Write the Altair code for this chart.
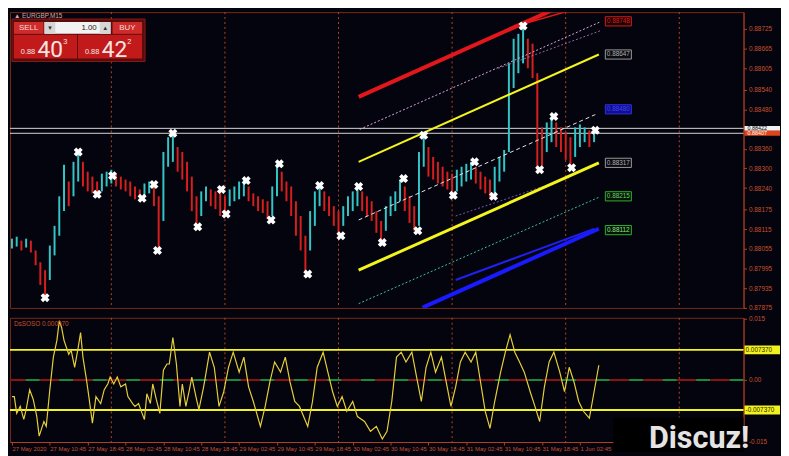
import altair as alt
import pandas as pd

FONT = "DejaVu Sans"
NFONT = "Liberation Sans"
BG = "#04040e"
AXC = "#b3401f"
LBC = "#c8502c"
CYAN = "#34c6c6"
RED = "#d81f1f"
YEL = "#f5f51e"

# ---------------- data ----------------
# price bars (every 4th M15 bar), high / low
bar_hi = [0.88086, 0.88092, 0.88080, 0.88086, 0.88080, 0.88050, 0.88014, 0.87990, 0.88065, 0.88125,
          0.88215, 0.88311, 0.88260, 0.88320, 0.88350, 0.88320, 0.88290, 0.88275, 0.88260, 0.88284,
          0.88290, 0.88296, 0.88284, 0.88275, 0.88266, 0.88260, 0.88245, 0.88236, 0.88254, 0.88260,
          0.88245, 0.88215, 0.88350, 0.88395, 0.88401, 0.88365, 0.88350, 0.88320, 0.88275, 0.88215,
          0.88230, 0.88245, 0.88236, 0.88230, 0.88236, 0.88215, 0.88236, 0.88245, 0.88260, 0.88266,
          0.88245, 0.88224, 0.88215, 0.88206, 0.88200, 0.88245, 0.88314, 0.88290, 0.88260, 0.88245,
          0.88200, 0.88155, 0.88095, 0.88170, 0.88230, 0.88254, 0.88230, 0.88215, 0.88185, 0.88170,
          0.88185, 0.88215, 0.88230, 0.88248, 0.88230, 0.88215, 0.88200, 0.88170, 0.88140, 0.88185,
          0.88215, 0.88230, 0.88266, 0.88245, 0.88215, 0.88185, 0.88350, 0.88401, 0.88365, 0.88335,
          0.88320, 0.88305, 0.88290, 0.88284, 0.88296, 0.88305, 0.88314, 0.88320, 0.88305, 0.88290,
          0.88275, 0.88266, 0.88305, 0.88335, 0.88356, 0.88620, 0.88695, 0.88710, 0.88734, 0.88695,
          0.88680, 0.88590, 0.88425, 0.88440, 0.88458, 0.88440, 0.88425, 0.88410, 0.88395, 0.88425,
          0.88434, 0.88425, 0.88416, 0.88425]
bar_lo = [0.88056, 0.88062, 0.88050, 0.88059, 0.88044, 0.88005, 0.87945, 0.87900, 0.87960, 0.88035,
          0.88095, 0.88170, 0.88185, 0.88215, 0.88260, 0.88245, 0.88230, 0.88224, 0.88215, 0.88230,
          0.88245, 0.88254, 0.88245, 0.88236, 0.88230, 0.88215, 0.88206, 0.88200, 0.88215, 0.88224,
          0.88185, 0.88056, 0.88140, 0.88305, 0.88320, 0.88290, 0.88266, 0.88230, 0.88170, 0.88122,
          0.88155, 0.88200, 0.88185, 0.88176, 0.88155, 0.88164, 0.88185, 0.88200, 0.88206, 0.88215,
          0.88200, 0.88185, 0.88170, 0.88164, 0.88146, 0.88155, 0.88215, 0.88230, 0.88200, 0.88155,
          0.88095, 0.88050, 0.87984, 0.88050, 0.88125, 0.88185, 0.88170, 0.88155, 0.88125, 0.88095,
          0.88125, 0.88155, 0.88170, 0.88185, 0.88170, 0.88155, 0.88140, 0.88104, 0.88074, 0.88110,
          0.88155, 0.88170, 0.88200, 0.88170, 0.88134, 0.88110, 0.88125, 0.88305, 0.88275, 0.88266,
          0.88254, 0.88245, 0.88236, 0.88215, 0.88230, 0.88245, 0.88260, 0.88266, 0.88254, 0.88236,
          0.88224, 0.88212, 0.88224, 0.88260, 0.88290, 0.88350, 0.88545, 0.88590, 0.88620, 0.88605,
          0.88575, 0.88296, 0.88305, 0.88350, 0.88380, 0.88365, 0.88350, 0.88326, 0.88302, 0.88335,
          0.88365, 0.88380, 0.88365, 0.88380]
BAR_STEP = 4

# zigzag / fractal crosses
frac_i = [28, 56, 72, 85, 110, 120, 123, 136, 157, 177, 181, 198, 219, 226, 250,
          260, 278, 293, 313, 331, 343, 348, 373, 391, 407, 432, 446, 458, 473, 493]
frac_p = [0.87906, 0.88350, 0.88221, 0.88278, 0.88209, 0.88251, 0.88050, 0.88407, 0.88122, 0.88236,
          0.88161, 0.88263, 0.88143, 0.88314, 0.87978, 0.88248, 0.88095, 0.88245, 0.88074, 0.88269,
          0.88110, 0.88401, 0.88218, 0.88320, 0.88215, 0.88734, 0.88296, 0.88458, 0.88302, 0.88416]

# oscillator
osc_i = [0, 2, 4, 7, 10, 12, 15, 18, 21, 23, 27, 29, 32, 35, 38, 40, 42, 44, 48, 50,
         53, 56, 58, 60, 63, 65, 68, 71, 75, 78, 81, 83, 86, 89, 92, 96, 98, 102, 104, 107,
         110, 112, 114, 117, 119, 122, 125, 128, 131, 133, 136, 139, 142, 144, 147, 150, 152, 156, 158, 162,
         167, 171, 175, 179, 183, 187, 192, 196, 200, 204, 210, 214, 218, 222, 227, 231, 235, 239, 243, 250,
         254, 258, 263, 267, 271, 275, 279, 283, 288, 292, 298, 303, 308, 313, 317, 321, 325, 329, 333, 338,
         342, 346, 350, 354, 358, 363, 367, 371, 375, 379, 383, 388, 392, 396, 400, 404, 408, 413, 417, 421,
         425, 429, 433, 438, 442, 446, 450, 454, 458, 463, 467, 471, 475, 479, 483, 488, 492, 496]
osc_v = [-0.0041, -0.0041, -0.0082, -0.0065, -0.0097, -0.0073, -0.0024, -0.0048, -0.0090, -0.0138,
         -0.0102, -0.0114, -0.0024, 0.0056, 0.0097, 0.0145, 0.0128, 0.0097, 0.0063, 0.0073,
         0.0031, 0.0080, 0.0116, 0.0056, 0.0000, -0.0041, -0.0106, -0.0041, -0.0058, -0.0024,
         -0.0010, 0.0007, -0.0010, 0.0007, -0.0017, -0.0010, -0.0041, -0.0058, -0.0065, -0.0058,
         -0.0082, -0.0097, -0.0034, -0.0058, -0.0010, -0.0048, -0.0082, 0.0024, 0.0039, 0.0039,
         0.0104, 0.0039, -0.0065, -0.0010, -0.0065, -0.0024, 0.0007, -0.0048, -0.0073, -0.0017,
         0.0068, 0.0031, -0.0065, -0.0029, 0.0031, 0.0068, 0.0019, 0.0056, -0.0017, -0.0053,
         -0.0114, -0.0065, -0.0005, 0.0044, 0.0019, 0.0056, -0.0005, -0.0053, -0.0065, -0.0114,
         -0.0053, 0.0031, 0.0068, 0.0019, -0.0029, -0.0065, -0.0041, -0.0077, -0.0053, -0.0090,
         -0.0102, -0.0126, -0.0114, -0.0145, -0.0126, -0.0053, 0.0056, 0.0068, 0.0044, 0.0068,
         0.0007, -0.0053, 0.0031, 0.0068, 0.0019, 0.0056, -0.0005, -0.0065, -0.0017, 0.0044,
         0.0068, 0.0044, 0.0068, -0.0005, -0.0077, -0.0119, -0.0053, 0.0019, 0.0068, 0.0111,
         0.0068, 0.0044, 0.0019, -0.0029, -0.0065, -0.0102, -0.0017, 0.0044, 0.0068, 0.0019,
         -0.0029, 0.0031, -0.0005, -0.0053, -0.0077, -0.0094, -0.0029, 0.0036]
osc_level = 0.00737

day_sep_i = [84, 180, 276, 372, 468, 564]
tick_i = [0, 32, 64, 96, 128, 160, 192, 224, 256, 288, 320, 352, 384, 416, 448, 480]
tick_labels = ["27 May 2020", "27 May 10:45", "27 May 18:45", "28 May 02:45", "28 May 10:45",
               "28 May 18:45", "29 May 02:45", "29 May 10:45", "29 May 18:45", "30 May 02:45",
               "30 May 10:45", "30 May 18:45", "31 May 02:45", "31 May 10:45", "31 May 18:45",
               "1 Jun 02:45"]
price_ticks = [0.88725, 0.88665, 0.88605, 0.88540, 0.88480, 0.88360, 0.88300, 0.88240,
               0.88175, 0.88115, 0.88055, 0.87995, 0.87935, 0.87875]
hline_p = [0.88422, 0.88407]

# channel / trend lines (bar index, price)
red_thick_i, red_thick_p = [293, 492], [0.88518, 0.88839]
red_thin_i, red_thin_p = [432, 500], [0.88740, 0.88810]
pink1_i, pink1_p = [294, 497], [0.88419, 0.88746]
pink2_i, pink2_p = [411, 497], [0.88605, 0.88719]
yel_up_i, yel_up_p = [293, 496], [0.88320, 0.88647]
yel_lo_i, yel_lo_p = [293, 496], [0.87990, 0.88317]
white_i, white_p = [293, 493], [0.88143, 0.88464]
cyan_i, cyan_p = [293, 496], [0.87888, 0.88212]
purple_i, purple_p = [375, 471], [0.88155, 0.88272]
blue_thick_i, blue_thick_p = [347, 496], [0.87876, 0.88116]
blue_thin_i, blue_thin_p = [375, 492], [0.87960, 0.88116]
end_label_p = [0.88748, 0.88647, 0.88480, 0.88317, 0.88215, 0.88112]

# ---------------- scales / axes ----------------
xs = alt.Scale(domain=[-1.67, 618.3], nice=False, zero=False)
ys = alt.Scale(domain=[0.87875, 0.88776], nice=False, zero=False)
osc_s = alt.Scale(domain=[-0.01524, 0.01524], nice=False, zero=False)

yaxis = alt.Axis(orient="right", values=price_ticks, format=".5f", labelFontSize=6.5, labelFont=NFONT,
                 labelColor=LBC, tickColor=AXC, domainColor=AXC, tickSize=3, labelPadding=2,
                 grid=False, labelFlush=False, labelOverlap=False, title=None)
lab_expr = "[" + ",".join("'%s'" % s for s in tick_labels) + "][round(datum.value / 32)]"
xaxis_b = alt.Axis(orient="bottom", values=tick_i, labelExpr=lab_expr, labelFontSize=6, labelFont=NFONT,
                   labelColor=LBC, tickColor=AXC, domainColor=AXC, tickSize=3, labelPadding=1,
                   labelAlign="left", labelBaseline="top", grid=False, labelFlush=False,
                   labelOverlap=False, title=None)
oaxis = alt.Axis(orient="right", values=[0.015, 0.0, -0.015],
                 labelExpr="datum.value > 0.01 ? '0.015' : (datum.value < -0.01 ? '-0.015' : '0.00')",
                 labelFontSize=6.5, labelFont=NFONT, labelColor=LBC, tickColor=AXC, domainColor=AXC,
                 tickSize=3, labelPadding=2, grid=False, labelFlush=False, labelOverlap=False, title=None)


def XP(f="i"):
    return alt.X(f, type="quantitative", scale=xs, axis=None, title=None)


def YP(f="p"):
    return alt.Y(f, type="quantitative", scale=ys, axis=yaxis, title=None)


def XO(f="i"):
    return alt.X(f, type="quantitative", scale=xs, axis=xaxis_b, title=None)


def YO(f="v"):
    return alt.Y(f, type="quantitative", scale=osc_s, axis=oaxis, title=None)


one = pd.DataFrame({"k": [0]})


def box(x, x2, y, y2, fill, stroke=None, sw=1):
    kw = dict(fill=fill)
    if stroke:
        kw.update(stroke=stroke, strokeWidth=sw)
    else:
        kw.update(strokeWidth=0)
    return alt.Chart(one).mark_rect(**kw).encode(
        x=alt.value(x), x2=alt.value(x2), y=alt.value(y), y2=alt.value(y2))


def txt(s, x, y, size, color, align="left", baseline="middle", weight="normal", font=FONT):
    return alt.Chart(one).mark_text(text=s, align=align, baseline=baseline, fontSize=size,
                                    color=color, fontWeight=weight, font=font).encode(
        x=alt.value(x), y=alt.value(y))


def seg(ii, pp, color, width, dash=None, opacity=1.0):
    kw = dict(color=color, strokeWidth=width, clip=True, opacity=opacity)
    if dash:
        kw["strokeDash"] = dash
    return alt.Chart(pd.DataFrame({"i": ii, "p": pp})).mark_line(**kw).encode(x=XP(), y=YP())


# ---------------- main price panel ----------------
bars = pd.DataFrame({"i": [k * BAR_STEP for k in range(len(bar_hi))], "hi": bar_hi, "lo": bar_lo})
mid = (bars["hi"] + bars["lo"]) / 2
bars["dir"] = ["up" if k == 0 or mid[k] >= mid[k - 1] else "down" for k in range(len(bars))]

top_layers = []
top_layers.append(alt.Chart(pd.DataFrame({"i": day_sep_i})).mark_rule(
    color="#b8461f", strokeDash=[2, 3], strokeWidth=1).encode(x=XP()))
top_layers.append(alt.Chart(pd.DataFrame({"p": hline_p})).mark_rule(
    color="#d8d8d8", strokeWidth=1).encode(y=YP()))
top_layers.append(alt.Chart(bars).mark_rule(strokeWidth=2).encode(
    x=XP(), y=YP("lo"), y2="hi",
    color=alt.Color("dir:N", scale=alt.Scale(domain=["up", "down"], range=[CYAN, RED]), legend=None)))

top_layers += [
    seg(cyan_i, cyan_p, "#3cc0a0", 1, [2, 2]),
    seg(purple_i, purple_p, "#9070d0", 1, [2, 2], 0.8),
    seg(pink2_i, pink2_p, "#c080c0", 1, [2, 2], 0.8),
    seg(pink1_i, pink1_p, "#e0a8e0", 1, [2, 2]),
    seg(white_i, white_p, "#e6e6e6", 1, [4, 3]),
    seg(yel_up_i, yel_up_p, YEL, 2),
    seg(yel_lo_i, yel_lo_p, YEL, 3),
    seg(blue_thin_i, blue_thin_p, "#2020f0", 2),
    seg(blue_thick_i, blue_thick_p, "#1a1aff", 4),
    seg(red_thin_i, red_thin_p, "#e01818", 1.5),
    seg(red_thick_i, red_thick_p, "#e3161c", 4),
]

top_layers.append(alt.Chart(pd.DataFrame({"i": frac_i, "p": frac_p})).mark_point(
    shape="cross", angle=45, filled=True, color="#ffffff", size=85, opacity=1, strokeWidth=0).encode(
    x=XP(), y=YP()))

end_styles = [("#140404", "#e01818", "#e01818"), ("#0a0a12", "#9a9a9a", "#b0b0b0"),
              ("#10108a", "#3030e0", "#4040ff"), ("#0a0a12", "#9a9a9a", "#b0b0b0"),
              ("#041404", "#30b030", "#70d070"), ("#041404", "#30b030", "#90e890")]
for v, (fill, stroke, tc) in zip(end_label_p, end_styles):
    base = alt.Chart(pd.DataFrame({"p": [v], "t": ["%.5f" % v]})).transform_calculate(
        x0="501.5", x1="523.5", xc="512.5", y0="datum.p - 0.00014", y1="datum.p + 0.00014")
    top_layers.append(base.mark_rect(fill=fill, stroke=stroke, strokeWidth=1).encode(
        x=XP("x0"), x2="x1", y=YP("y0"), y2="y1"))
    top_layers.append(base.mark_text(color=tc, fontSize=6.5, font=NFONT, align="center",
                                     baseline="middle").encode(x=XP("xc"), y=YP(), text="t:N"))

for v, fill, tc in [(hline_p[0], "#f0f0f0", "#000000"), (hline_p[1], "#e0451a", "#ffffff")]:
    base = alt.Chart(pd.DataFrame({"p": [v], "t": ["%.5f" % v]})).transform_calculate(
        y0="datum.p - 0.000075", y1="datum.p + 0.000075")
    top_layers.append(base.mark_rect(fill=fill).encode(
        x=alt.value(745), x2=alt.value(781), y=YP("y0"), y2="y1"))
    top_layers.append(base.mark_text(color=tc, fontSize=5.5, font=NFONT, align="left",
                                     baseline="middle").encode(x=alt.value(748), y=YP(), text="t:N"))

# one-click trading panel
top_layers += [
    txt("\u25b2 EURGBP,M15", 4, 1, 6.5, "#d8a8a8", baseline="top", font=NFONT),
    box(2, 137, 7, 50, "#5a0c0c", "#8a1a1a"),
    box(4, 34, 10, 22, "#cf2b2b"),
    box(35, 102, 10, 22, "#f2f2f2"),
    box(35, 46, 10, 22, "#d6d6d6"),
    box(91, 102, 10, 22, "#d6d6d6"),
    box(104, 134, 10, 22, "#cf2b2b"),
    box(4, 68, 23, 47, "#c21a1a"),
    box(69, 134, 23, 47, "#c21a1a"),
    txt("SELL", 19, 16.5, 8, "#f6dede", align="center", font=NFONT),
    txt("BUY", 119, 16.5, 8, "#f6dede", align="center", font=NFONT),
    txt("\u25be", 40.5, 16.5, 7, "#303030", align="center"),
    txt("\u25b4", 96.5, 16.5, 7, "#303030", align="center"),
    txt("1.00", 88, 16.5, 8, "#202020", align="right", font=NFONT),
    txt("0.88", 11, 42, 7.5, "#f6e6e6", baseline="alphabetic", font=NFONT),
    txt("40", 28, 45, 23, "#f6e6e6", baseline="alphabetic", font="Roboto"),
    txt("3", 54, 30, 7.5, "#f6e6e6", font=NFONT),
    txt("0.88", 76, 42, 7.5, "#f6e6e6", baseline="alphabetic", font=NFONT),
    txt("42", 93, 45, 23, "#f6e6e6", baseline="alphabetic", font="Roboto"),
    txt("2", 119, 30, 7.5, "#f6e6e6", font=NFONT),
]

top = alt.layer(*top_layers).properties(width=744, height=300)

# ---------------- oscillator panel ----------------
osc_layers = []
osc_layers.append(alt.Chart(pd.DataFrame({"i": day_sep_i})).mark_rule(
    color="#b8461f", strokeDash=[2, 3], strokeWidth=1).encode(x=XO()))
osc_layers.append(alt.Chart(pd.DataFrame({"v": [osc_level, -osc_level]})).mark_rule(
    color=YEL, strokeWidth=2).encode(y=YO()))
osc_layers.append(alt.Chart(pd.DataFrame({"v": [0.0]})).mark_rule(
    color="#8a1212", strokeWidth=2).encode(y=YO()))
osc_layers.append(alt.Chart(pd.DataFrame({"v": [0.0]})).mark_rule(
    color="#1a8a3a", strokeWidth=2, strokeDash=[14, 20]).encode(y=YO()))
osc_layers.append(alt.Chart(pd.DataFrame({"i": osc_i, "v": osc_v})).mark_line(
    color="#e6cf3a", strokeWidth=1.2).encode(x=XO(), y=YO()))
osc_layers.append(txt("DsSOSO 0.000070", 4, 6, 6.5, "#c8502c", font=NFONT))
for v, s in [(osc_level, "0.007370"), (-osc_level, "-0.007370")]:
    base = alt.Chart(pd.DataFrame({"v": [v], "t": [s]})).transform_calculate(
        y0="datum.v - 0.0011", y1="datum.v + 0.0011")
    osc_layers.append(base.mark_rect(fill="#f2f21e").encode(
        x=alt.value(745), x2=alt.value(781), y=YO("y0"), y2="y1"))
    osc_layers.append(base.mark_text(color="#202000", fontSize=6.5, font=NFONT, align="left",
                                     baseline="middle").encode(x=alt.value(746), y=YO(), text="t:N"))
osc_layers.append(box(612, 744, 101, 136, "#000000"))
osc_layers.append(txt("Discuz!", 648, 132, 31, "#e4e4e4", baseline="alphabetic", weight="bold",
                      font="Roboto"))

bottom = alt.layer(*osc_layers).properties(width=744, height=126)

chart = alt.vconcat(top, bottom, spacing=3).properties(
    background=BG, padding={"left": 0, "top": 0, "right": 0, "bottom": 0}
).configure_view(stroke="#7a2a12", strokeWidth=1)

chart.save("out.html", embed_options={"renderer": "svg", "actions": False})
